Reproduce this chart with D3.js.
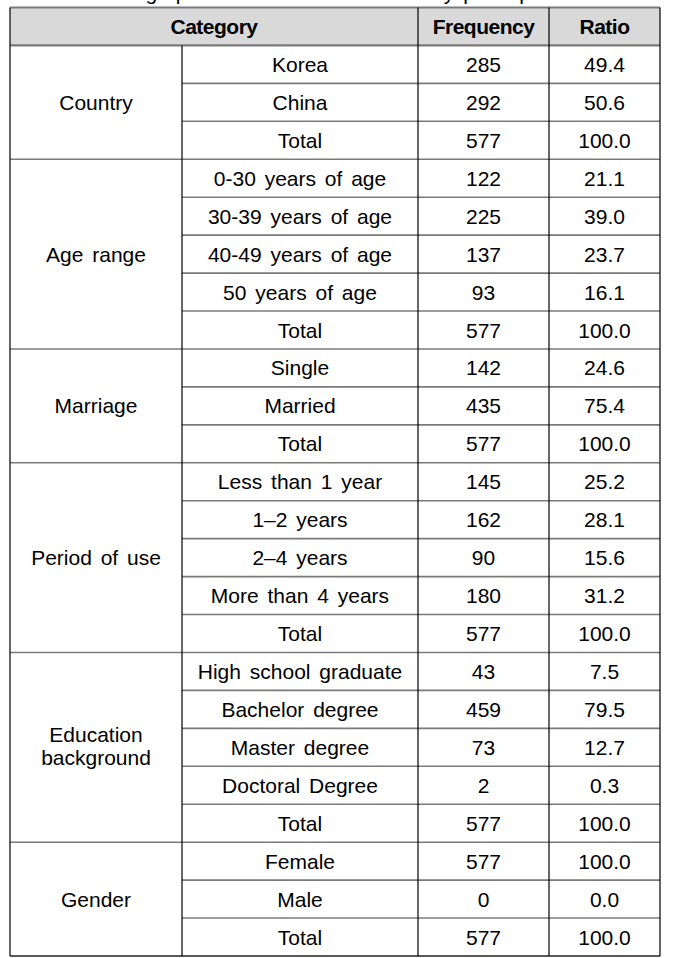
<!DOCTYPE html>
<html lang="en">
<head>
<meta charset="utf-8">
<title>Demographic characteristics</title>
<style type="text/css">
body { margin: 0; background: #fff; }
text { font-family: "Liberation Sans", Arial, sans-serif; font-size: 21px; fill: #000; word-spacing: 3px; }
.head { font-weight: bold; letter-spacing: -0.5px; word-spacing: 0; }
</style>
<script type="text/javascript" src="https://cdn.jsdelivr.net/npm/d3@7"></script>
</head>
<body>
<script type="text/javascript">
var w = 681;
var h = 958;

// table content
var headers = ["Category", "Frequency", "Ratio"];
var categories = ["Country", "Age range", "Marriage", "Period of use", "Education background", "Gender"];
var items = [
  ["Korea", "China", "Total"],
  ["0-30 years of age", "30-39 years of age", "40-49 years of age", "50 years of age", "Total"],
  ["Single", "Married", "Total"],
  ["Less than 1 year", "1\u20132 years", "2\u20134 years", "More than 4 years", "Total"],
  ["High school graduate", "Bachelor degree", "Master degree", "Doctoral Degree", "Total"],
  ["Female", "Male", "Total"]
];
var frequency = [
  [285, 292, 577],
  [122, 225, 137, 93, 577],
  [142, 435, 577],
  [145, 162, 90, 180, 577],
  [43, 459, 73, 2, 577],
  [577, 0, 577]
];
var ratio = [
  [49.4, 50.6, 100.0],
  [21.1, 39.0, 23.7, 16.1, 100.0],
  [24.6, 75.4, 100.0],
  [25.2, 28.1, 15.6, 31.2, 100.0],
  [7.5, 79.5, 12.7, 0.3, 100.0],
  [100.0, 0.0, 100.0]
];

var cols = [10, 182, 418, 549, 660];
var nRows = 1 + d3.sum(items, function(d){ return d.length; });
var y = d3.scaleLinear().domain([0, nRows]).range([7.5, 956]);
var fmt = d3.format(".1f");

var svg = d3.select("body").append("svg")
            .attr("width", w)
            .attr("height", h);

// caption above the table, cut off by the crop of the original
svg.append("text")
   .attr("x", 330)
   .attr("y", 0)
   .attr("text-anchor", "middle")
   .text("Demographic characteristics of survey participants");

// header
svg.append("rect")
   .attr("x", cols[0]).attr("y", y(0))
   .attr("width", cols[4] - cols[0]).attr("height", y(1) - y(0))
   .attr("fill", "#d9d9d9");

var headX = [(cols[0] + cols[2]) / 2, (cols[2] + cols[3]) / 2, (cols[3] + cols[4]) / 2];
svg.selectAll("text.head")
   .data(headers)
   .enter()
   .append("text")
   .attr("class", "head")
   .attr("x", function(d, i){ return headX[i]; })
   .attr("y", (y(0) + y(1)) / 2)
   .attr("dy", "0.36em")
   .attr("text-anchor", "middle")
   .text(function(d){ return d; });

// flatten rows
var rows = [];
var groups = [];
var r = 1;
categories.forEach(function(c, gi){
  groups.push({name: c, start: r, end: r + items[gi].length});
  items[gi].forEach(function(it, k){
    rows.push({g: gi, k: k, idx: r, item: it, f: frequency[gi][k], p: ratio[gi][k]});
    r++;
  });
});

var hLines = svg.append("g").attr("stroke", "#7a7a7a").attr("stroke-width", 1.6);
// header lines
hLines.append("line").attr("x1", cols[0]).attr("x2", cols[4]).attr("y1", y(0)).attr("y2", y(0)).attr("stroke-width", 2.2);
hLines.append("line").attr("x1", cols[0]).attr("x2", cols[4]).attr("y1", y(1)).attr("y2", y(1)).attr("stroke-width", 2.2);
// inner row lines
hLines.selectAll("line.inner")
      .data(rows.filter(function(d){ return d.k > 0; }))
      .enter()
      .append("line")
      .attr("class", "inner")
      .attr("x1", cols[1]).attr("x2", cols[4])
      .attr("y1", function(d){ return y(d.idx); })
      .attr("y2", function(d){ return y(d.idx); });
// group separators
hLines.selectAll("line.grp")
      .data(groups.slice(1))
      .enter()
      .append("line")
      .attr("class", "grp")
      .attr("x1", cols[0]).attr("x2", cols[4])
      .attr("y1", function(d){ return y(d.start); })
      .attr("y2", function(d){ return y(d.start); });
// bottom border
svg.append("line")
   .attr("x1", cols[0]).attr("x2", cols[4])
   .attr("y1", y(nRows)).attr("y2", y(nRows))
   .attr("stroke", "#222").attr("stroke-width", 1.4);

// vertical lines
var vLines = svg.append("g").attr("stroke", "#000").attr("stroke-width", 1.2);
[0, 2, 3, 4].forEach(function(i){
  vLines.append("line").attr("x1", cols[i]).attr("x2", cols[i]).attr("y1", y(0)).attr("y2", y(nRows));
});
vLines.append("line").attr("x1", cols[1]).attr("x2", cols[1]).attr("y1", y(1)).attr("y2", y(nRows));

// category cells
var cat = svg.selectAll("text.cat")
   .data(groups)
   .enter()
   .append("text")
   .attr("class", "cat")
   .attr("x", (cols[0] + cols[1]) / 2)
   .attr("y", function(d){ return (y(d.start) + y(d.end)) / 2; })
   .attr("text-anchor", "middle");
cat.each(function(d){
  var words = d.name === "Education background" ? ["Education", "background"] : [d.name];
  var t = d3.select(this);
  words.forEach(function(wd, i){
    t.append("tspan")
     .attr("x", (cols[0] + cols[1]) / 2)
     .attr("dy", words.length === 1 ? "0.36em" : (i === 0 ? "-0.25em" : "1.1em"))
     .text(wd);
  });
});

// body cells
var cellX = [(cols[1] + cols[2]) / 2, (cols[2] + cols[3]) / 2, (cols[3] + cols[4]) / 2];
var rowG = svg.selectAll("g.row")
   .data(rows)
   .enter()
   .append("g")
   .attr("class", "row")
   .attr("transform", function(d){ return "translate(0," + (y(d.idx) + y(d.idx + 1)) / 2 + ")"; });
rowG.selectAll("text")
    .data(function(d){ return [d.item, String(d.f), fmt(d.p)]; })
    .enter()
    .append("text")
    .attr("x", function(d, i){ return cellX[i]; })
    .attr("dy", "0.36em")
    .attr("text-anchor", "middle")
    .text(function(d){ return d; });
</script>
</body>
</html>
